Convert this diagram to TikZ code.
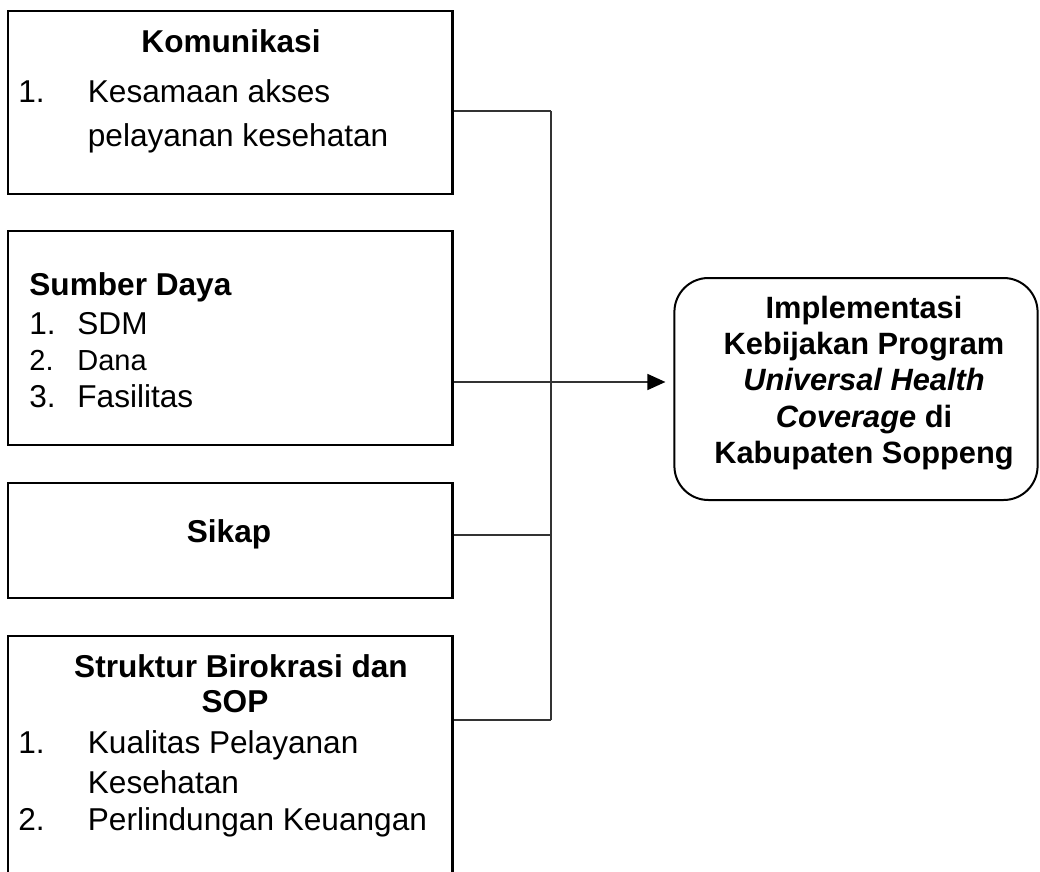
\documentclass[tikz,border=0pt]{standalone}
\usepackage{fontspec}
\setmainfont{Liberation Sans}
\usetikzlibrary{arrows.meta, positioning}

\tikzset{
  box/.style={draw, line width=1.4pt, minimum width=222.25pt, inner sep=0pt},
  head/.style={anchor=base, inner sep=0pt, font=\fontsize{15.8}{19}\selectfont\bfseries},
  item/.style={anchor=base west, inner sep=0pt, font=\fontsize{15.8}{19}\selectfont},
  smallitem/.style={anchor=base west, inner sep=0pt, font=\fontsize{14.5}{17}\selectfont},
  conn/.style={line width=0.8pt, draw=black!80},
  goal/.style={draw, line width=1pt, rounded corners=17pt, minimum width=181.6pt, minimum height=111pt}
}

\begin{document}
\begin{tikzpicture}[x=0.5pt, y=-0.5pt]
    \path[use as bounding box, clip] (0,0) rectangle (1040,872);

    % Komunikasi
    \node[box, minimum height=91.5pt] (kom) at (230.25,102.5) {};
    \node[head] (komhead) at (231,53) {Komunikasi};
    \node[item] (kom1n) at (18,103) {1.};
    \node[item] (kom1) at (87.5,103) {Kesamaan akses};
    \node[item] (kom1b) at (87.5,147) {pelayanan kesehatan};

    % Sumber Daya
    \node[box, minimum height=107pt] (sd) at (230.25,338) {};
    \node[item, font=\fontsize{15.8}{19}\selectfont\bfseries] (sdhead) at (29,295) {Sumber Daya};
    \node[item] (sd1n) at (29,335) {1.};
    \node[item] (sd1) at (77,335) {SDM};
    \node[smallitem] (sd2n) at (29,370) {2.};
    \node[smallitem] (sd2) at (77,370) {Dana};
    \node[item] (sd3n) at (29,407) {3.};
    \node[item] (sd3) at (77,407) {Fasilitas};

    % Sikap
    \node[box, minimum height=57.5pt] (sikap) at (230.25,540.5) {};
    \node[head] (sikaphead) at (229,542) {Sikap};

    % Struktur Birokrasi dan SOP
    \node[box, minimum height=132pt] (sop) at (230.25,768) {};
    \node[head] (sophead) at (241,677) {Struktur Birokrasi dan};
    \node[head] (sophead2) at (235,712) {SOP};
    \node[item] (sop1n) at (18,753) {1.};
    \node[item] (sop1) at (87.5,753) {Kualitas Pelayanan};
    \node[item] (sop1b) at (87.5,793) {Kesehatan};
    \node[item] (sop2n) at (18,830) {2.};
    \node[item] (sop2) at (87.5,830) {Perlindungan Keuangan};

    % Implementasi
    \node[goal] (uhc) at (856,389) {};
    \node[align=center, inner sep=0pt, font=\fontsize{15.4}{18.15}\selectfont\bfseries] (uhctext) at (864,383)
        {Implementasi\\Kebijakan Program\\\textit{Universal Health}\\\textit{Coverage} di\\Kabupaten Soppeng};

    % Connectors
    \coordinate (jtop) at (550.7,111);
    \coordinate (jmid) at (550.7,382);
    \coordinate (jsik) at (550.7,535);
    \coordinate (jbot) at (550.7,720);
    \draw[conn] (kom.east |- jtop) -- (jtop);
    \draw[conn] (sd.east |- jmid) -- (jmid);
    \draw[conn] (sikap.east |- jsik) -- (jsik);
    \draw[conn] (sop.east |- jbot) -- (jbot);
    \draw[conn] (jtop) -- (jbot);
    \draw[conn, -{Triangle[length=9pt, width=8pt, fill=black, color=black]}, shorten >=4pt] (jmid) -- (jmid -| uhc.west);
\end{tikzpicture}
\end{document}
